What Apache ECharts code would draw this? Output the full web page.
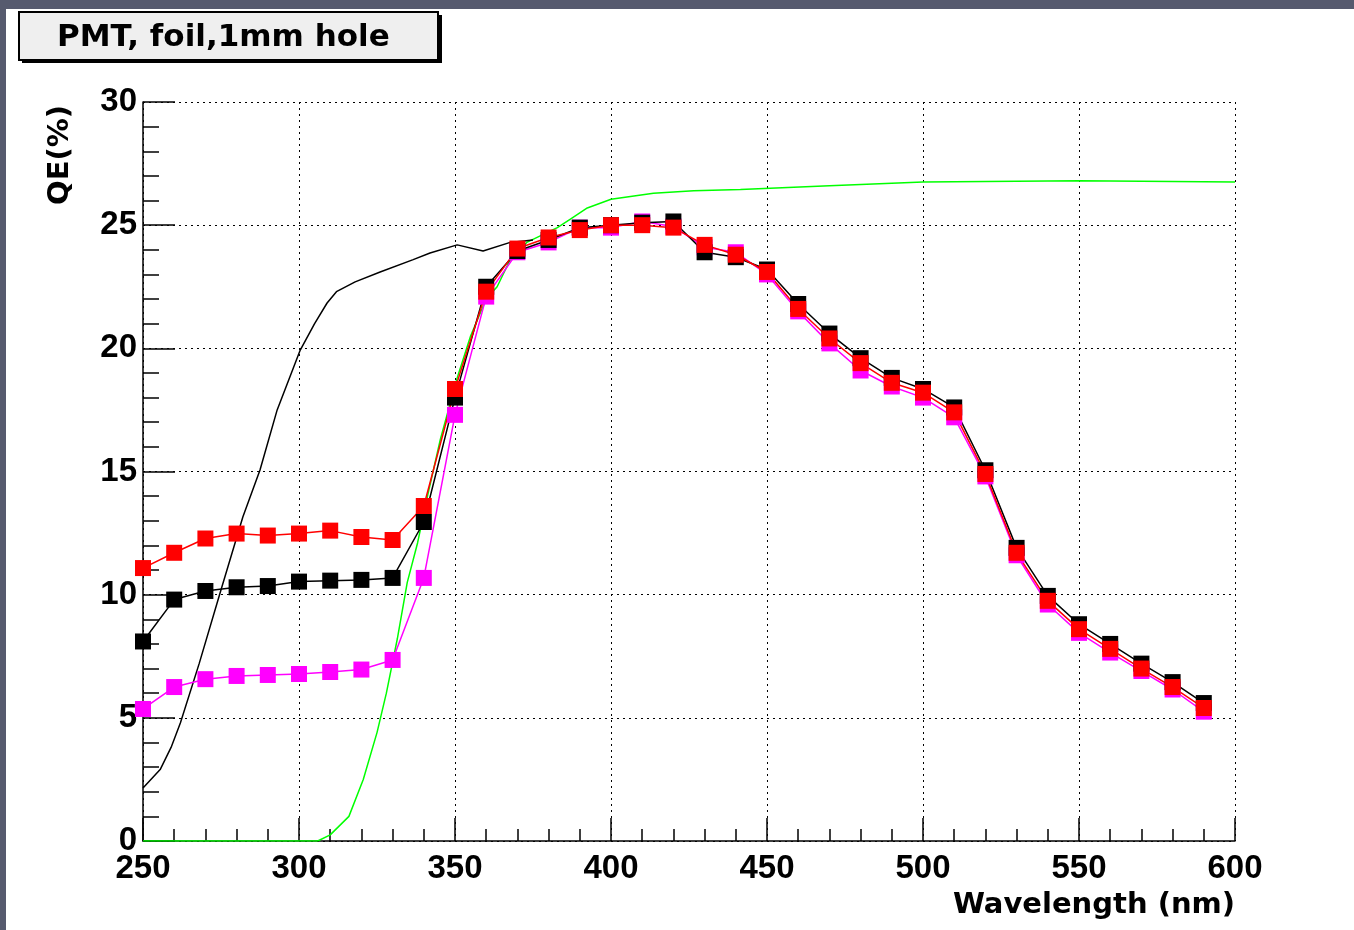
<!DOCTYPE html>
<html>
<head>
<meta charset="utf-8">
<script src="https://cdn.jsdelivr.net/npm/echarts@6/dist/echarts.min.js"></script>
<style>
html,body{margin:0;padding:0;background:#fff;}
#chart{width:1354px;height:930px;}
</style>
</head>
<body>
<div id="chart"></div>
<script>
// ---- data ----
const titleText = 'PMT, foil,1mm hole';
const xAxisTitle = 'Wavelength (nm)';
const yAxisTitle = 'QE(%)';

const wavelengths = [250,260,270,280,290,300,310,320,330,340,350,360,370,380,390,400,410,420,430,440,450,460,470,480,490,500,510,520,530,540,550,560,570,580,590];
const qeMagenta = [5.36,6.25,6.57,6.7,6.74,6.78,6.86,6.96,7.35,10.68,17.3,22.1,23.9,24.3,24.9,24.9,25.15,24.95,24.1,23.9,23.0,21.5,20.2,19.1,18.45,18.0,17.2,14.8,11.6,9.6,8.45,7.65,6.9,6.15,5.25];
const qeBlack = [8.1,9.8,10.15,10.3,10.35,10.53,10.57,10.6,10.68,12.95,18.0,22.5,23.95,24.4,24.9,25.0,25.1,25.15,23.9,23.7,23.2,21.8,20.6,19.6,18.8,18.35,17.6,15.05,11.9,9.95,8.8,8.0,7.2,6.45,5.6];
const qeRed = [11.08,11.7,12.28,12.48,12.4,12.48,12.6,12.34,12.22,13.6,18.35,22.3,24.05,24.5,24.8,25.0,25.0,24.9,24.2,23.8,23.1,21.6,20.4,19.4,18.6,18.2,17.4,14.9,11.7,9.75,8.6,7.8,7.0,6.25,5.4];

const greenX = [250,260,280,300,306,310,316,320.6,325,328,331.5,334.7,338,341,345.3,350.7,355,360,363.5,367.7,373,382.8,387,392.4,400,413.6,426.5,441.5,470,500,550,600];
const greenY = [0,0,0,0,0,0.25,1.0,2.5,4.4,6.0,8.2,10.5,12.1,13.9,16.3,18.8,20.5,22.0,22.5,23.6,24.3,24.9,25.25,25.7,26.05,26.3,26.4,26.45,26.6,26.75,26.8,26.75];

const thinX = [250,255.5,259,262,268,274.7,282,287.5,293,300.4,305,309,312,318,326,336.6,342,350.7,359,367.7,375];
const thinY = [2.15,2.9,3.8,4.8,7.2,10.07,13.15,15.06,17.5,19.93,21.0,21.84,22.3,22.7,23.1,23.6,23.87,24.2,23.95,24.3,24.4];

const xTicks = [250,300,350,400,450,500,550,600];
const yTicks = [0,5,10,15,20,25,30];

// ---- build ----
const zip = (xs, ys) => xs.map((x, i) => [x, ys[i]]);
const markerSeries = (name, color, ys) => ({
  name, type: 'line', data: zip(wavelengths, ys),
  symbol: 'rect', symbolSize: 16, showSymbol: true,
  lineStyle: { color, width: 1.5 }, itemStyle: { color },
  emphasis: { disabled: true }
});

const chart = echarts.init(document.getElementById('chart'), null, { renderer: 'canvas' });
const numFont = { fontFamily: 'Liberation Sans', fontWeight: 'bold', fontSize: 33, color: '#000' };
const nameFont = { fontFamily: 'DejaVu Sans', fontWeight: 'bold', fontSize: 29, color: '#000' };

chart.setOption({
  animation: false,
  backgroundColor: '#ffffff',
  grid: { left: 143, right: 119, top: 102, bottom: 89, containLabel: false },
  xAxis: {
    type: 'value', min: xTicks[0], max: xTicks[xTicks.length - 1], interval: 50,
    name: xAxisTitle, nameLocation: 'end', nameGap: 0,
    nameTextStyle: Object.assign({}, nameFont, { align: 'right', verticalAlign: 'top', padding: [50, 0, 0, 0] }),
    axisLine: { show: true, onZero: false, lineStyle: { color: '#000', width: 1.5 } },
    axisTick: { show: true, inside: true, length: 23, lineStyle: { color: '#000', width: 1.5 } },
    minorTick: { show: true, splitNumber: 5, length: 12, lineStyle: { color: '#000', width: 1.5 } },
    axisLabel: Object.assign({}, numFont, { margin: 11 }),
    splitLine: { show: true, lineStyle: { color: '#000', width: 1, type: [2, 4] } }
  },
  yAxis: {
    type: 'value', min: yTicks[0], max: yTicks[yTicks.length - 1], interval: 5,
    name: yAxisTitle, nameLocation: 'end', nameGap: -3, nameRotate: 90,
    nameTextStyle: Object.assign({}, nameFont, { align: 'right', verticalAlign: 'bottom', padding: [0, 0, 68, 0] }),
    axisLine: { show: true, onZero: false, lineStyle: { color: '#000', width: 1.5 } },
    axisTick: { show: true, inside: true, length: 32, lineStyle: { color: '#000', width: 1.5 } },
    minorTick: { show: true, splitNumber: 5, length: 16, lineStyle: { color: '#000', width: 1.5 } },
    axisLabel: Object.assign({}, numFont, { margin: 6 }),
    splitLine: { show: true, lineStyle: { color: '#000', width: 1, type: [2, 4] } }
  },
  series: [
    { name: 'green', type: 'line', data: zip(greenX, greenY), showSymbol: false, symbol: 'none',
      lineStyle: { color: '#00ff00', width: 1.5 }, emphasis: { disabled: true } },
    { name: 'thin', type: 'line', data: zip(thinX, thinY), showSymbol: false, symbol: 'none',
      lineStyle: { color: '#000', width: 1.5 }, emphasis: { disabled: true } },
    markerSeries('magenta', '#ff00ff', qeMagenta),
    markerSeries('black', '#000000', qeBlack),
    markerSeries('red', '#ff0000', qeRed)
  ],
  graphic: [
    { type: 'rect', left: 0, top: 0, shape: { width: 1354, height: 9 }, style: { fill: '#565a6e' }, z: 100 },
    { type: 'rect', left: 0, top: 0, shape: { width: 6, height: 930 }, style: { fill: '#565a6e' }, z: 100 },
    { type: 'rect', left: 22, top: 15, shape: { width: 420, height: 48 }, style: { fill: '#000' }, z: 100 },
    { type: 'rect', left: 18, top: 11, shape: { width: 419, height: 48 }, style: { fill: '#efefef', stroke: '#000', lineWidth: 2 }, z: 101 },
    { type: 'text', left: 57, top: 22, style: { text: titleText, fill: '#000', font: 'bold 31px "DejaVu Sans"' }, z: 102 }
  ]
});
</script>
</body>
</html>
